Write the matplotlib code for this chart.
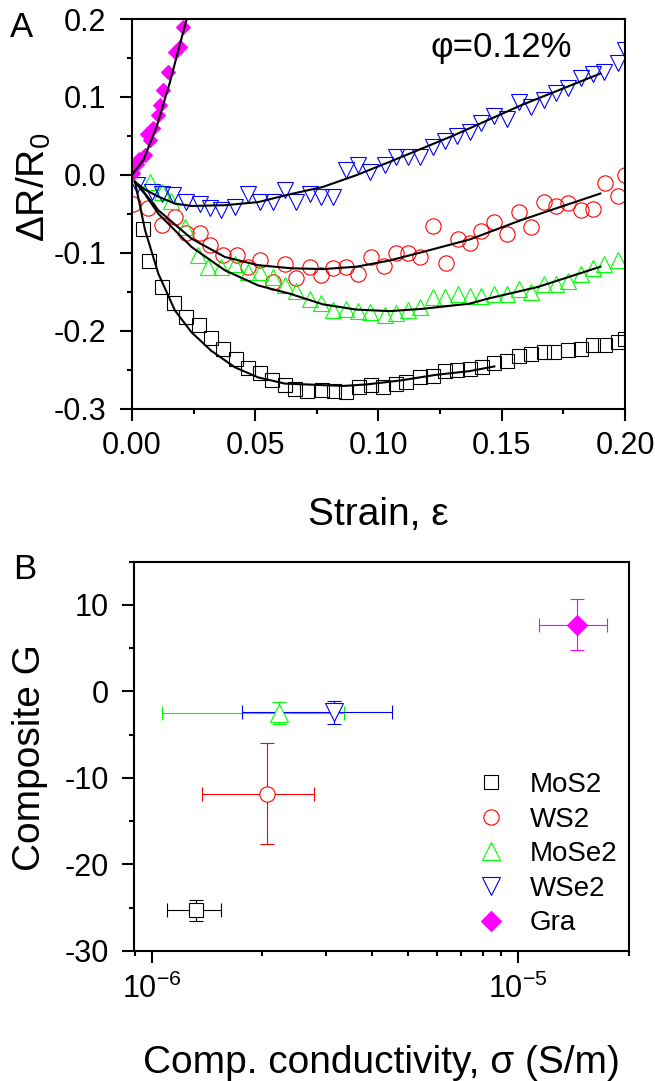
import numpy as np
import matplotlib; matplotlib.use("Agg")
import matplotlib.pyplot as plt
from matplotlib import rcParams
from matplotlib.ticker import MultipleLocator, FormatStrFormatter, LogLocator, NullFormatter

rcParams.update({"font.family": ["Liberation Sans", "DejaVu Sans"], "mathtext.fontset": "custom",
    "mathtext.rm": "Liberation Sans", "mathtext.it": "Liberation Sans:italic",
    "axes.unicode_minus": False, "axes.linewidth": 1.5})

# ---------- panel A: dR/R0 vs strain (phi = 0.12%) ----------
mos2_x = [0.0046,0.007,0.012,0.017,0.022,0.027,0.032,0.037,0.042,0.047,0.052,0.057,0.062,0.066,0.071,0.077,
          0.082,0.087,0.092,0.097,0.102,0.107,0.111,0.117,0.122,0.127,0.132,0.137,0.142,0.147,0.152,0.157,
          0.162,0.167,0.171,0.177,0.182,0.187,0.192,0.197,0.200]
mos2_y = [-0.070,-0.110,-0.144,-0.164,-0.183,-0.193,-0.210,-0.224,-0.236,-0.248,-0.254,-0.263,-0.270,-0.275,
          -0.278,-0.276,-0.278,-0.279,-0.273,-0.270,-0.273,-0.268,-0.266,-0.260,-0.258,-0.252,-0.251,-0.249,
          -0.247,-0.242,-0.239,-0.233,-0.230,-0.227,-0.227,-0.225,-0.223,-0.219,-0.218,-0.215,-0.211]
ws2_x = [0.0005,0.0066,0.012,0.0174,0.022,0.0275,0.0316,0.037,0.0424,0.047,0.0519,0.0573,0.062,0.0667,0.0721,
         0.0768,0.0816,0.087,0.0917,0.0971,0.1022,0.1072,0.112,0.117,0.122,0.1272,0.1322,0.137,0.1417,0.147,
         0.152,0.157,0.162,0.167,0.172,0.1767,0.182,0.187,0.192,0.197,0.200]
ws2_y = [-0.037,-0.043,-0.065,-0.054,-0.075,-0.075,-0.090,-0.103,-0.103,-0.118,-0.109,-0.138,-0.114,-0.132,
         -0.118,-0.129,-0.120,-0.118,-0.127,-0.106,-0.117,-0.101,-0.101,-0.106,-0.066,-0.113,-0.082,-0.0875,
         -0.072,-0.0605,-0.0755,-0.0477,-0.067,-0.035,-0.040,-0.036,-0.0455,-0.0433,-0.011,-0.0275,0.0]
mose2_x = [0.0073,0.012,0.016,0.0215,0.0269,0.031,0.0363,0.0417,0.047,0.0519,0.0573,0.062,0.0667,0.0721,
           0.0768,0.0816,0.087,0.0917,0.0964,0.1025,0.1072,0.112,0.1167,0.122,0.1268,0.1322,0.137,0.1417,
           0.147,0.152,0.157,0.162,0.167,0.172,0.1767,0.182,0.187,0.1916,0.197]
mose2_y = [-0.009,-0.022,-0.033,-0.067,-0.103,-0.118,-0.118,-0.114,-0.125,-0.125,-0.131,-0.142,-0.149,-0.159,
           -0.164,-0.173,-0.172,-0.175,-0.176,-0.180,-0.178,-0.174,-0.170,-0.157,-0.157,-0.153,-0.155,-0.155,
           -0.153,-0.153,-0.147,-0.150,-0.140,-0.140,-0.136,-0.127,-0.120,-0.114,-0.109]
wse2_x = [0.0019,0.008,0.012,0.0167,0.022,0.0275,0.0316,0.0363,0.0417,0.047,0.0519,0.0573,0.062,0.0667,0.0721,
          0.0768,0.0816,0.087,0.0917,0.0964,0.1025,0.1072,0.112,0.117,0.122,0.127,0.132,0.137,0.1417,0.147,
          0.152,0.157,0.162,0.167,0.172,0.1767,0.182,0.187,0.1916,0.197,0.200]
wse2_y = [-0.013,-0.022,-0.024,-0.026,-0.035,-0.037,-0.043,-0.0455,-0.041,-0.024,-0.035,-0.035,-0.020,-0.035,
          -0.024,-0.028,-0.028,0.006,0.012,0.004,0.012,0.023,0.023,0.023,0.036,0.044,0.050,0.055,0.066,0.076,
          0.072,0.094,0.087,0.096,0.1045,0.111,0.124,0.130,0.132,0.143,0.160]
gra_x = [0.0005,0.0019,0.003,0.0053,0.006,0.0075,0.0086,0.0107,0.0115,0.0127,0.0147,0.0174,0.0194,0.0208]
gra_y = [0.0017,0.0145,0.020,0.025,0.053,0.045,0.0595,0.0766,0.090,0.1087,0.132,0.158,0.164,0.190]

# fit curves
fit_mos2_x = [0.0012,0.0053,0.0107,0.0174,0.0241,0.0322,0.0417,0.0511,0.0620,0.0701,0.0775,0.0860,0.0955,
              0.1089,0.1228,0.1369,0.147]
fit_mos2_y = [-0.009,-0.071,-0.127,-0.174,-0.202,-0.226,-0.247,-0.260,-0.268,-0.269,-0.270,-0.271,-0.269,
              -0.264,-0.257,-0.252,-0.246]
fit_ws2_x = [0.0012,0.0053,0.0107,0.0242,0.0377,0.0512,0.0647,0.0775,0.091,0.1045,0.118,0.137,0.158,0.190]
fit_ws2_y = [-0.009,-0.024,-0.0455,-0.082,-0.1055,-0.116,-0.120,-0.121,-0.118,-0.110,-0.099,-0.083,-0.058,-0.024]
fit_mose2_x = [0.0012,0.0053,0.0107,0.0242,0.0377,0.0512,0.064,0.0775,0.091,0.1045,0.118,0.137,0.1443,0.1646,0.190]
fit_mose2_y = [-0.009,-0.025,-0.050,-0.0927,-0.1226,-0.142,-0.1526,-0.1663,-0.173,-0.175,-0.172,-0.1654,-0.159,
               -0.144,-0.118]
fit_wse2_x = [0.0012,0.0053,0.0107,0.0174,0.0242,0.0377,0.0512,0.064,0.0775,0.091,0.1045,0.1308,0.158,0.190]
fit_wse2_y = [-0.009,-0.019,-0.028,-0.037,-0.040,-0.039,-0.035,-0.025,-0.0155,-0.0005,0.0166,0.051,0.0895,0.130]
fit_gra_x = [0.0,0.0046,0.010,0.0154,0.0188,0.0222,0.024]
fit_gra_y = [0.0,0.0188,0.0616,0.119,0.160,0.200,0.222]

# ---------- panel B: gauge factor vs conductivity ----------
names = ["MoS2", "WS2", "MoSe2", "WSe2", "Gra"]
sigma = [1.318e-6, 2.07e-6, 2.22e-6, 3.15e-6, 1.443e-5]
sigma_lo = [1.104e-6, 1.376e-6, 1.07e-6, 1.77e-6, 1.138e-5]
sigma_hi = [1.545e-6, 2.77e-6, 3.35e-6, 4.52e-6, 1.748e-5]
G = [-25.3, -11.8, -2.5, -2.4, 7.7]
G_err = [1.2, 5.85, 1.3, 1.35, 2.95]

cols = ["black", "#FF0000", "#00FF00", "#0000FF", "#FF00FF"]

fig = plt.figure(figsize=(6.55, 10.81), dpi=100)
axA = fig.add_axes([0.2015, 0.6221, 0.7527, 0.3603])
axB = fig.add_axes([0.2052, 0.1203, 0.7557, 0.3601])

mk = dict(ls="none", mfc="none", mew=0.8)
axA.plot(mos2_x, mos2_y, marker="s", ms=10.5, mec=cols[0], **mk)
axA.plot(ws2_x, ws2_y, marker="o", ms=11, mec=cols[1], **mk)
axA.plot(mose2_x, mose2_y, marker="^", ms=11.5, mec=cols[2], **mk)
axA.plot(wse2_x, wse2_y, marker="v", ms=11.5, mec=cols[3], **mk)
axA.plot(gra_x, gra_y, ls="none", marker="D", ms=7.5, mfc=cols[4], mec=cols[4], mew=0.8)
for fx, fy in [(fit_mos2_x, fit_mos2_y), (fit_ws2_x, fit_ws2_y), (fit_mose2_x, fit_mose2_y),
               (fit_wse2_x, fit_wse2_y), (fit_gra_x, fit_gra_y)]:
    axA.plot(fx, fy, color="black", lw=1.5, zorder=5)

axA.set_xlim(0, 0.2); axA.set_ylim(-0.3, 0.2)
axA.xaxis.set_major_locator(MultipleLocator(0.05)); axA.xaxis.set_minor_locator(MultipleLocator(0.025))
axA.yaxis.set_major_locator(MultipleLocator(0.1)); axA.yaxis.set_minor_locator(MultipleLocator(0.05))
axA.xaxis.set_major_formatter(FormatStrFormatter("%.2f"))
axA.yaxis.set_major_formatter(FormatStrFormatter("%.1f"))
axA.text(0.748, 0.928, "\u03c6=0.12%", transform=axA.transAxes, fontsize=25, ha="center", va="center")
axA.set_xlabel("Strain, \u03b5", fontsize=28)
axA.set_ylabel("\u0394R/R$_0$", fontsize=28)
axA.xaxis.set_label_coords(0.5, -0.299); axA.xaxis.label.set_va("baseline")
axA.yaxis.set_label_coords(-0.199, 0.569); axA.yaxis.label.set_va("center")

# panel B
mk_b = [("s", 10.5), ("o", 11), ("^", 13), ("v", 13), ("D", 10.5)]
handles = []
for i in range(5):
    xe = [[sigma[i] - sigma_lo[i]], [sigma_hi[i] - sigma[i]]]
    axB.errorbar([sigma[i]], [G[i]], xerr=xe, yerr=[G_err[i]], fmt="none", ecolor=cols[i],
                 elinewidth=0.8, capsize=4.7, capthick=0.8, zorder=2)
    m, s = mk_b[i]
    fill = cols[i] if names[i] == "Gra" else "white"
    h, = axB.plot([sigma[i]], [G[i]], ls="none", marker=m, ms=s, mfc=fill, mec=cols[i], mew=0.8,
                  zorder=3, label=names[i])
    handles.append(h)

axB.set_xscale("log")
axB.set_xlim(8.98e-7, 2.01e-5); axB.set_ylim(-30, 15)
axB.xaxis.set_major_locator(LogLocator(base=10))
axB.xaxis.set_minor_locator(LogLocator(base=10, subs=np.arange(2, 10)))
axB.xaxis.set_minor_formatter(NullFormatter())
axB.yaxis.set_major_locator(MultipleLocator(10)); axB.yaxis.set_minor_locator(MultipleLocator(5))
axB.yaxis.set_major_formatter(FormatStrFormatter("%d"))
axB.set_xlabel("Comp. conductivity, \u03c3 (S/m)", fontsize=28)
axB.set_ylabel("Composite G", fontsize=28)
axB.xaxis.set_label_coords(0.5, -0.313); axB.xaxis.label.set_va("baseline")
axB.yaxis.set_label_coords(-0.211, 0.498); axB.yaxis.label.set_va("center")
axB.legend(handles=handles, loc="upper left", bbox_to_anchor=(0.687, 0.46), frameon=False, fontsize=20,
           handlelength=1.2, handletextpad=0.8, labelspacing=0.31, borderpad=0, borderaxespad=0)

for ax in (axA, axB):
    ax.tick_params(which="major", direction="out", length=8.5, width=1.5, labelsize=22, top=False, right=False)
    ax.tick_params(which="minor", direction="out", length=3.6, width=1.5, top=False, right=False)
    ax.tick_params(axis="x", which="major", pad=8)
    ax.tick_params(axis="y", which="major", pad=10)

fig.text(21/655, 1-27.5/1081, "A", fontsize=25, ha="center", va="center")
fig.text(25/655, 1-569.5/1081, "B", fontsize=25, ha="center", va="center")

fig.savefig("out.png", dpi=100)
